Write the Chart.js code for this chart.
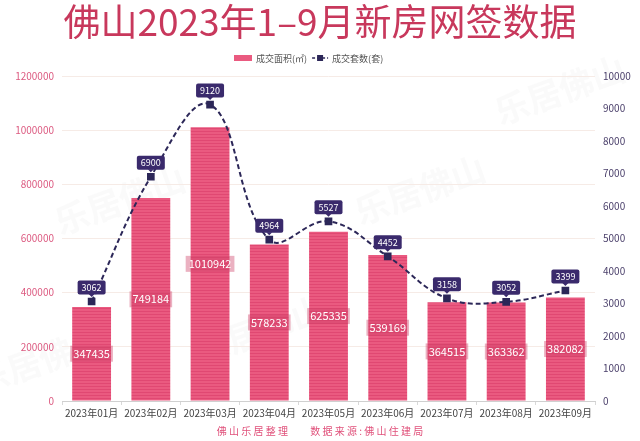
<!DOCTYPE html>
<html>
<head>
<meta charset="utf-8">
<script src="https://cdn.jsdelivr.net/npm/chart.js@4"></script>
<style>
  html, body { margin: 0; padding: 0; background: #fff; }
  #wrap { position: relative; width: 640px; height: 441px; }
</style>
</head>
<body>
<div id="wrap"><canvas id="myChart" width="640" height="441"></canvas></div>
<script>
const months = ["2023年01月", "2023年02月", "2023年03月", "2023年04月", "2023年05月",
  "2023年06月", "2023年07月", "2023年08月", "2023年09月"];
const areaValues = [347435, 749184, 1010942, 578233, 625335, 539169, 364515, 363362, 382082];
const unitValues = [3062, 6900, 9120, 4964, 5527, 4452, 3158, 3052, 3399];
const areaLabel = "成交面积(㎡)";
const unitLabel = "成交套数(套)";
const titleText = "佛山2023年1–9月新房网签数据";
const footerText = "佛 山 乐 居 整 理　　 数 据 来 源 : 佛 山 住 建 局";

const FONT = "'Noto Sans CJK SC', 'Noto Sans', sans-serif";

// striped bar fill
const makeStripes = () => {
  const c = document.createElement("canvas");
  c.width = 4; c.height = 3;
  const g = c.getContext("2d");
  g.fillStyle = "#ea5a80";
  g.fillRect(0, 0, 4, 3);
  g.fillStyle = "#e04872";
  g.fillRect(0, 2, 4, 1);
  return g.createPattern(c, "repeat");
};

const roundBox = (ctx, x, y, w, h, r) => {
  ctx.beginPath();
  ctx.moveTo(x + r, y);
  ctx.lineTo(x + w - r, y);
  ctx.quadraticCurveTo(x + w, y, x + w, y + r);
  ctx.lineTo(x + w, y + h - r);
  ctx.quadraticCurveTo(x + w, y + h, x + w - r, y + h);
  ctx.lineTo(x + r, y + h);
  ctx.quadraticCurveTo(x, y + h, x, y + h - r);
  ctx.lineTo(x, y + r);
  ctx.quadraticCurveTo(x, y, x + r, y);
  ctx.closePath();
};

const decorPlugin = {
  id: "decor",
  beforeDraw(chart) {
    const ctx = chart.ctx;
    ctx.save();
    // faint watermark text
    ctx.fillStyle = "rgba(190,190,190,0.07)";
    ctx.font = "bold 34px " + FONT;
    ctx.textAlign = "center";
    ctx.textBaseline = "middle";
    [[120, 200], [420, 190], [260, 330], [560, 90], [40, 360]].forEach(([x, y]) => {
      ctx.save();
      ctx.translate(x, y);
      ctx.rotate(-0.35);
      ctx.fillText("乐居佛山", 0, 0);
      ctx.restore();
    });
    ctx.restore();
  },
  afterDraw(chart) {
    const ctx = chart.ctx;
    const W = chart.width;
    ctx.save();
    // title
    ctx.fillStyle = "#c8385c";
    ctx.font = "normal 37px " + FONT;
    ctx.textAlign = "center";
    ctx.textBaseline = "middle";
    ctx.fillText(titleText, W / 2, 22);

    // legend
    ctx.font = "9px " + FONT;
    ctx.textAlign = "left";
    ctx.fillStyle = "#ea5a80";
    ctx.fillRect(234, 55, 18, 6);
    ctx.fillStyle = "#555";
    ctx.fillText(areaLabel, 256, 58.5);
    let lx = 256 + ctx.measureText(areaLabel).width + 5;
    ctx.strokeStyle = "#2c2758";
    ctx.lineWidth = 1.5;
    ctx.setLineDash([3, 2]);
    ctx.beginPath(); ctx.moveTo(lx, 58); ctx.lineTo(lx + 16, 58); ctx.stroke();
    ctx.setLineDash([]);
    ctx.fillStyle = "#2c2758";
    ctx.fillRect(lx + 5, 55, 6, 6);
    ctx.fillStyle = "#555";
    ctx.fillText(unitLabel, lx + 20, 58.5);

    // bar value labels
    const barMeta = chart.getDatasetMeta(0);
    ctx.font = "11px " + FONT;
    ctx.textAlign = "center";
    barMeta.data.forEach((bar, i) => {
      const txt = String(areaValues[i]);
      const w = ctx.measureText(txt).width + 6;
      const cy = (bar.y + bar.base) / 2;
      ctx.fillStyle = "rgba(205,60,100,0.4)";
      ctx.fillRect(bar.x - w / 2, cy - 8, w, 16);
      ctx.fillStyle = "#fff";
      ctx.fillText(txt, bar.x, cy);
    });

    // line value labels
    const lineMeta = chart.getDatasetMeta(1);
    ctx.font = "9px " + FONT;
    lineMeta.data.forEach((pt, i) => {
      const txt = String(unitValues[i]);
      const w = ctx.measureText(txt).width + 8;
      const cy = pt.y - 14;
      ctx.fillStyle = "#3a2a6c";
      roundBox(ctx, pt.x - w / 2, cy - 7, w, 14, 2);
      ctx.fill();
      ctx.beginPath();
      ctx.moveTo(pt.x - 3, cy + 6.5);
      ctx.lineTo(pt.x + 3, cy + 6.5);
      ctx.lineTo(pt.x, cy + 9.5);
      ctx.closePath();
      ctx.fill();
      ctx.fillStyle = "#fff";
      ctx.fillText(txt, pt.x, cy);
    });

    // footer
    ctx.fillStyle = "#e0507a";
    ctx.font = "10px " + FONT;
    ctx.fillText(footerText, W / 2, 431);
    ctx.restore();
  }
};

const ctx = document.getElementById("myChart").getContext("2d");
new Chart(ctx, {
  type: "bar",
  data: {
    labels: months,
    datasets: [
      {
        type: "bar",
        label: areaLabel,
        data: areaValues,
        backgroundColor: makeStripes(),
        yAxisID: "y",
        barPercentage: 0.82,
        categoryPercentage: 0.8,
        order: 2,
      },
      {
        type: "line",
        label: unitLabel,
        data: unitValues,
        yAxisID: "y1",
        borderColor: "#2c2758",
        borderWidth: 2,
        borderDash: [5, 3],
        tension: 0.4,
        pointStyle: "rect",
        pointRadius: 4,
        pointBackgroundColor: "#2c2758",
        pointBorderColor: "#2c2758",
        order: 1,
      },
    ],
  },
  options: {
    responsive: false,
    animation: false,
    events: [],
    layout: { padding: { top: 76, left: 0, right: 0, bottom: 0 } },
    plugins: {
      legend: { display: false },
      tooltip: { enabled: false },
    },
    scales: {
      x: {
        grid: { display: true, drawOnChartArea: false, offset: true, color: "#d8d8d8", tickLength: 4 },
        border: { color: "#d0d0d0" },
        ticks: { color: "#444", font: { size: 10, family: FONT }, maxRotation: 0, autoSkip: false, padding: 2 },
        afterFit: (s) => { s.height = 40; },
      },
      y: {
        position: "left",
        min: 0,
        max: 1200000,
        ticks: { stepSize: 200000, color: "#dc5a80", font: { size: 10, family: FONT }, padding: 8,
          callback: (v) => String(v) },
        grid: { color: "#f6ebe6", drawTicks: false },
        border: { display: false },
        afterFit: (s) => { s.width = 62; },
      },
      y1: {
        position: "right",
        min: 0,
        max: 10000,
        ticks: { stepSize: 1000, color: "#4a3f6a", font: { size: 10, family: FONT }, padding: 8,
          callback: (v) => String(v) },
        grid: { display: false, drawTicks: false },
        border: { display: false },
        afterFit: (s) => { s.width = 45; },
      },
    },
  },
  plugins: [decorPlugin],
});
</script>
</body>
</html>
